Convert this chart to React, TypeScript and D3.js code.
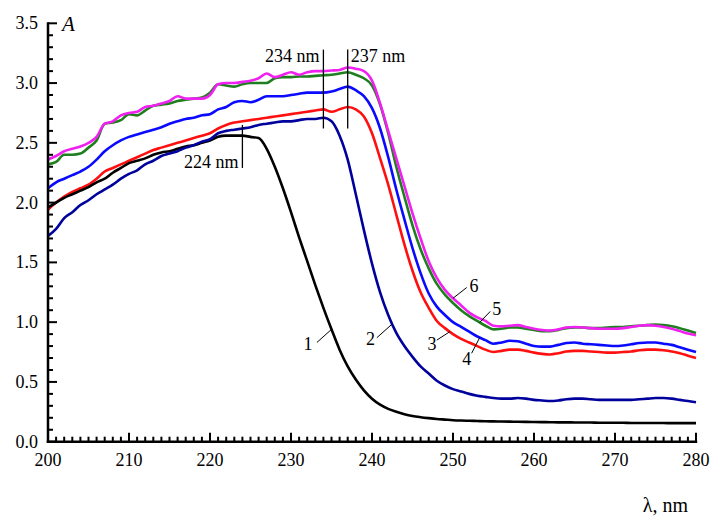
import React from 'react';
import * as d3 from 'd3';

// wavelength grid, 1 nm step
const wavelengths = d3.range(200, 281);

// absorbance, one value per nm (200..280)
const curve1 = [
  1.96, 2.00, 2.04, 2.07, 2.10, 2.13, 2.17, 2.20, 2.25, 2.29,
  2.33, 2.35, 2.37, 2.40, 2.42, 2.43, 2.45, 2.47, 2.48, 2.50,
  2.52, 2.55, 2.56, 2.56, 2.56, 2.55, 2.54, 2.45, 2.30, 2.12,
  1.92, 1.71, 1.51, 1.31, 1.12, 0.94, 0.77, 0.63, 0.52, 0.43,
  0.36, 0.31, 0.275, 0.25, 0.23, 0.215, 0.205, 0.197, 0.19, 0.185,
  0.18, 0.177, 0.175, 0.173, 0.171, 0.17, 0.169, 0.168, 0.167, 0.166,
  0.165, 0.164, 0.163, 0.162, 0.162, 0.161, 0.16, 0.16, 0.159, 0.159,
  0.158, 0.158, 0.157, 0.157, 0.156, 0.156, 0.156, 0.155, 0.155, 0.155,
  0.155,
];
const curve2 = [
  1.72, 1.78, 1.87, 1.92, 1.98, 2.02, 2.07, 2.11, 2.15, 2.20,
  2.24, 2.27, 2.32, 2.35, 2.39, 2.41, 2.43, 2.46, 2.48, 2.51,
  2.53, 2.58, 2.60, 2.61, 2.62, 2.63, 2.65, 2.66, 2.67, 2.68,
  2.68, 2.69, 2.70, 2.70, 2.71, 2.68, 2.56, 2.36, 2.07, 1.77,
  1.49, 1.25, 1.06, 0.91, 0.80, 0.71, 0.63, 0.57, 0.51, 0.47,
  0.44, 0.42, 0.40, 0.385, 0.375, 0.365, 0.36, 0.36, 0.365, 0.36,
  0.35, 0.345, 0.34, 0.345, 0.355, 0.36, 0.36, 0.355, 0.35, 0.35,
  0.35, 0.35, 0.35, 0.355, 0.36, 0.365, 0.365, 0.36, 0.35, 0.34,
  0.33,
];
const curve3 = [
  1.94, 2.00, 2.05, 2.09, 2.12, 2.15, 2.20, 2.26, 2.29, 2.32,
  2.35, 2.38, 2.41, 2.44, 2.46, 2.48, 2.50, 2.52, 2.54, 2.56,
  2.58, 2.62, 2.65, 2.67, 2.68, 2.69, 2.70, 2.71, 2.72, 2.73,
  2.74, 2.75, 2.76, 2.77, 2.78, 2.76, 2.78, 2.80, 2.78, 2.72,
  2.58, 2.37, 2.15, 1.90, 1.65, 1.43, 1.25, 1.12, 1.01, 0.95,
  0.90, 0.86, 0.83, 0.80, 0.77, 0.75, 0.76, 0.77, 0.77, 0.76,
  0.745, 0.735, 0.73, 0.74, 0.755, 0.76, 0.76, 0.755, 0.75, 0.745,
  0.745, 0.75, 0.755, 0.765, 0.77, 0.77, 0.765, 0.755, 0.74, 0.72,
  0.70,
];
const curve4 = [
  2.12, 2.17, 2.20, 2.23, 2.26, 2.30, 2.36, 2.43, 2.48, 2.52,
  2.55, 2.57, 2.59, 2.61, 2.63, 2.66, 2.68, 2.70, 2.71, 2.73,
  2.74, 2.78, 2.80, 2.84, 2.85, 2.84, 2.86, 2.89, 2.89, 2.89,
  2.90, 2.91, 2.92, 2.92, 2.92, 2.93, 2.95, 2.97, 2.94, 2.89,
  2.79, 2.62, 2.38, 2.11, 1.86, 1.62, 1.41, 1.24, 1.13, 1.06,
  1.00, 0.96, 0.92, 0.88, 0.85, 0.82, 0.83, 0.845, 0.84, 0.82,
  0.80, 0.795, 0.795, 0.81, 0.825, 0.83, 0.82, 0.815, 0.81, 0.805,
  0.80, 0.805, 0.815, 0.825, 0.83, 0.83, 0.82, 0.81, 0.79, 0.77,
  0.75,
];
const curve5 = [
  2.32, 2.34, 2.40, 2.40, 2.41, 2.46, 2.52, 2.66, 2.67, 2.69,
  2.74, 2.73, 2.77, 2.81, 2.82, 2.83, 2.85, 2.86, 2.87, 2.88,
  2.92, 2.99, 2.98, 2.97, 2.99, 3.00, 3.00, 3.00, 3.04, 3.05,
  3.05, 3.055, 3.055, 3.06, 3.065, 3.07, 3.08, 3.09, 3.07, 3.04,
  2.98, 2.82, 2.58, 2.30, 2.05, 1.81, 1.61, 1.45, 1.32, 1.23,
  1.16, 1.10, 1.05, 1.01, 0.97, 0.94, 0.945, 0.955, 0.955, 0.945,
  0.935, 0.925, 0.925, 0.935, 0.95, 0.955, 0.955, 0.95, 0.95, 0.955,
  0.96, 0.96, 0.965, 0.97, 0.975, 0.98, 0.975, 0.965, 0.95, 0.93,
  0.91,
];
const curve6 = [
  2.36, 2.39, 2.43, 2.45, 2.47, 2.50, 2.55, 2.66, 2.68, 2.73,
  2.75, 2.76, 2.80, 2.81, 2.83, 2.85, 2.89, 2.87, 2.87, 2.87,
  2.90, 2.99, 3.00, 3.00, 3.01, 3.02, 3.04, 3.08, 3.05, 3.07,
  3.09, 3.07, 3.09, 3.10, 3.10, 3.105, 3.11, 3.13, 3.12, 3.10,
  3.02, 2.83, 2.60, 2.37, 2.14, 1.91, 1.70, 1.51, 1.37, 1.27,
  1.20, 1.14, 1.08, 1.04, 1.01, 0.97, 0.965, 0.97, 0.975, 0.96,
  0.945, 0.935, 0.93, 0.94, 0.955, 0.96, 0.955, 0.95, 0.945, 0.945,
  0.945, 0.95, 0.96, 0.97, 0.975, 0.97, 0.96, 0.945, 0.925, 0.905,
  0.89,
];

const curveNames = ['1', '2', '3', '4', '5', '6'];
const curveColors = ['#000000', '#00009c', '#ff1010', '#0a0aff', '#1f7f1f', '#f020f0'];
// drawing order (index into the lists above)
const drawOrder = [2, 0, 1, 3, 4, 5];

const xTicks = [200, 210, 220, 230, 240, 250, 260, 270, 280];
const yTicks = [0, 0.5, 1.0, 1.5, 2.0, 2.5, 3.0, 3.5];

// peak markers: wavelength, label, which side the label goes
const peaks = [
  { nm: 224, text: '224 nm', side: 'left', top: 2.65, bottom: 2.29, baseline: 2.29 },
  { nm: 234, text: '234 nm', side: 'left', top: 3.28, bottom: 2.62, baseline: 3.18 },
  { nm: 237, text: '237 nm', side: 'right', top: 3.28, bottom: 2.62, baseline: 3.18 },
];

// curve number labels: text position and where the leader touches the curve
const curveTags = [
  { name: '1', tx: 232.1, ty: 0.77, lx: 233.2, ly: 0.83, at: 235.0 },
  { name: '2', tx: 239.8, ty: 0.81, lx: 240.6, ly: 0.87, at: 242.5 },
  { name: '3', tx: 247.4, ty: 0.77, lx: 248.0, ly: 0.85, at: 249.6 },
  { name: '4', tx: 251.7, ty: 0.64, lx: 252.3, ly: 0.74, at: 253.3 },
  { name: '5', tx: 255.4, ty: 1.06, lx: 254.6, ly: 1.09, at: 253.3 },
  { name: '6', tx: 252.6, ty: 1.25, lx: 251.7, ly: 1.29, at: 250.0 },
];

const W = 720;
const H = 532;
const font = '"Liberation Serif", "DejaVu Serif", "Times New Roman", Times, serif';

export default function App() {
  const curves = [curve1, curve2, curve3, curve4, curve5, curve6];

  const x = d3.scaleLinear().domain([200, 280]).range([48, 696]);
  const y = d3.scaleLinear().domain([0, 3.5]).range([441.7, 23.3]);

  const line = d3.line<number>()
    .x((_, i) => x(wavelengths[i]))
    .y(d => y(d))
    .curve(d3.curveMonotoneX);

  const valueAt = (vals: number[], nm: number) => {
    const i = Math.floor(nm - 200);
    const t = nm - 200 - i;
    return vals[i] + (vals[Math.min(i + 1, vals.length - 1)] - vals[i]) * t;
  };

  const xMinor = d3.range(200, 281, 1);
  const yMinor = d3.range(0, 35.01, 1).map(v => v / 10);

  return (
    <svg width={W} height={H} style={{ position: 'absolute', left: 0, top: 0, background: '#fff', fontFamily: font }}>
      {/* curves */}
      {drawOrder.map(k => (
        <path key={curveNames[k]} d={line(curves[k]) || ''} fill="none"
          stroke={curveColors[k]} strokeWidth={2.6} strokeLinejoin="round" />
      ))}

      {/* axes */}
      <g stroke="#000" strokeWidth={2.5}>
        <line x1={x(200)} x2={x(200)} y1={y(3.5) - 1} y2={y(0) + 1.2} />
        <line x1={x(200) - 1.2} x2={x(280) + 1.2} y1={y(0)} y2={y(0)} />
      </g>
      <g stroke="#000" strokeWidth={2}>
        {xMinor.map(v => (
          <line key={'xt' + v} x1={x(v)} x2={x(v)} y1={y(0)}
            y2={y(0) - (v % 10 === 0 ? 9 : 5)} />
        ))}
        {yMinor.map((v, i) => (
          <line key={'yt' + i} x1={x(200)} x2={x(200) + (i % 5 === 0 ? 9 : 5)}
            y1={y(v)} y2={y(v)} />
        ))}
      </g>
      <g style={{ fontFamily: font }} fontSize={18} fill="#000">
        {xTicks.map(v => (
          <text key={'xl' + v} x={x(v)} y={y(0) + 24} textAnchor="middle">{v}</text>
        ))}
        {yTicks.map(v => (
          <text key={'yl' + v} x={38} y={y(v) + 6} textAnchor="end">{v.toFixed(1)}</text>
        ))}
        <text x={62} y={31} fontSize={21} fontStyle="italic">A</text>
        <text x={688} y={512} textAnchor="end" fontSize={20}>λ, nm</text>
      </g>

      {/* peak markers */}
      <g style={{ fontFamily: font }} fontSize={18} fill="#000">
        {peaks.map(p => (
          <g key={p.text}>
            <line x1={x(p.nm)} x2={x(p.nm)} y1={y(p.top)} y2={y(p.bottom)} stroke="#000" strokeWidth={1.3} />
            <text x={p.side === 'left' ? x(p.nm) - 4 : x(p.nm) + 3} y={y(p.baseline)}
              textAnchor={p.side === 'left' ? 'end' : 'start'}>{p.text}</text>
          </g>
        ))}
      </g>

      {/* curve numbers with leaders */}
      <g style={{ fontFamily: font }} fontSize={18} fill="#000">
        {curveTags.map((c, i) => (
          <g key={'tag' + c.name}>
            <line x1={x(c.lx)} y1={y(c.ly)} x2={x(c.at)} y2={y(valueAt(curves[i], c.at))}
              stroke="#000" strokeWidth={1} />
            <text x={x(c.tx)} y={y(c.ty)} textAnchor="middle">{c.name}</text>
          </g>
        ))}
      </g>
    </svg>
  );
}
